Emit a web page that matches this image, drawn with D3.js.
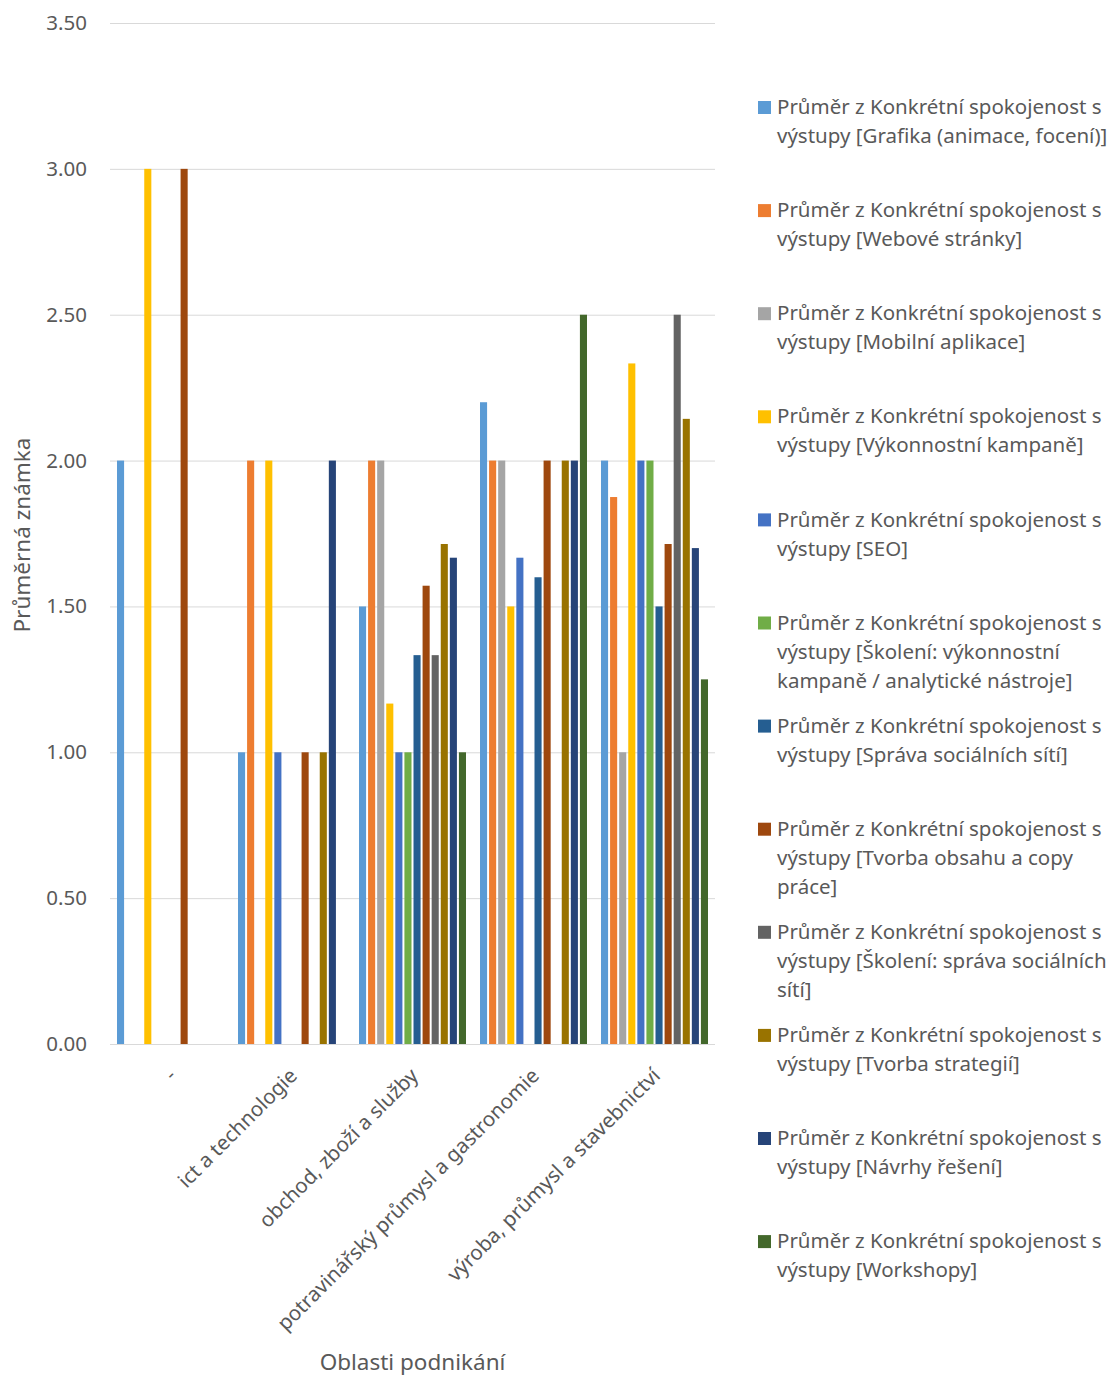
<!DOCTYPE html>
<html>
  <head>
    <meta charset="utf-8">
    <script src="https://d3js.org/d3.v7.min.js"></script>
    <style>
    body {
      margin: 0;
      background-color: #fff;
    }
    text {
      font-family: "Noto Sans", sans-serif;
      fill: #595959;
    }
    </style>
    <title>Průměrná známka podle oblasti podnikání</title>
  </head>
  <body>
    <div class="chart"></div>

    <script>

      // categories on the x axis
      var categories = ["-", "ict a technologie", "obchod, zboží a služby",
                        "potravinářský průmysl a gastronomie", "výroba, průmysl a stavebnictví"];

      // one array per series, null = no bar
      var grafika      = [2,    1,    1.5,   2.2,   2];
      var webove       = [null, 2,    2,     2,     1.875];
      var mobilni      = [null, null, 2,     2,     1];
      var vykonnostni  = [3,    2,    1.167, 1.5,   2.333];
      var seo          = [null, 1,    1,     1.667, 2];
      var skoleniKamp  = [null, null, 1,     null,  2];
      var spravaSoc    = [null, null, 1.333, 1.6,   1.5];
      var tvorbaObsahu = [3,    1,    1.571, 2,     1.714];
      var skoleniSoc   = [null, null, 1.333, null,  2.5];
      var strategie    = [null, 1,    1.714, 2,     2.143];
      var navrhy       = [null, 2,    1.667, 2,     1.7];
      var workshopy    = [null, null, 1,     2.5,   1.25];

      var seriesValues = [grafika, webove, mobilni, vykonnostni, seo, skoleniKamp,
                          spravaSoc, tvorbaObsahu, skoleniSoc, strategie, navrhy, workshopy];

      // legend texts, already split into lines like in the original
      var legendLines = [
        ["Průměr z Konkrétní spokojenost s", "výstupy [Grafika (animace, focení)]"],
        ["Průměr z Konkrétní spokojenost s", "výstupy [Webové stránky]"],
        ["Průměr z Konkrétní spokojenost s", "výstupy [Mobilní aplikace]"],
        ["Průměr z Konkrétní spokojenost s", "výstupy [Výkonnostní kampaně]"],
        ["Průměr z Konkrétní spokojenost s", "výstupy [SEO]"],
        ["Průměr z Konkrétní spokojenost s", "výstupy [Školení: výkonnostní", "kampaně / analytické nástroje]"],
        ["Průměr z Konkrétní spokojenost s", "výstupy [Správa sociálních sítí]"],
        ["Průměr z Konkrétní spokojenost s", "výstupy [Tvorba obsahu a copy", "práce]"],
        ["Průměr z Konkrétní spokojenost s", "výstupy [Školení: správa sociálních", "sítí]"],
        ["Průměr z Konkrétní spokojenost s", "výstupy [Tvorba strategií]"],
        ["Průměr z Konkrétní spokojenost s", "výstupy [Návrhy řešení]"],
        ["Průměr z Konkrétní spokojenost s", "výstupy [Workshopy]"]
      ];

      var colors = ["#5B9BD5", "#ED7D31", "#A5A5A5", "#FFC000", "#4472C4", "#70AD47",
                    "#255E91", "#9E480E", "#636363", "#997300", "#264478", "#43682B"];

      var yTicks = [0, 0.5, 1, 1.5, 2, 2.5, 3, 3.5];

      var yTitle = "Průměrná známka";
      var xTitle = "Oblasti podnikání";

      var width = 1119;
      var height = 1376;

      var plot = { left: 110, right: 715, top: 23, bottom: 1044 };

      var svg = d3.select('.chart').append('svg')
          .attr('width', width)
          .attr('height', height);

      var keys = d3.range(seriesValues.length);

      var x0 = d3.scaleBand()
          .domain(categories)
          .range([plot.left, plot.right])
          .padding(0);

      var x1 = d3.scaleBand()
          .domain(keys)
          .range([7, x0.bandwidth() - 7])
          .paddingInner(0.22)
          .paddingOuter(0);

      var y = d3.scaleLinear()
          .domain([0, 3.5])
          .range([plot.bottom, plot.top]);

      // gridlines + tick labels
      var yAxis = d3.axisLeft(y)
          .tickValues(yTicks)
          .tickFormat(d3.format('.2f'))
          .tickSize(-(plot.right - plot.left))
          .tickPadding(23);

      var gy = svg.append('g')
          .attr('transform', 'translate(' + plot.left + ',0)')
          .call(yAxis);

      gy.select('.domain').remove();
      gy.selectAll('line').attr('stroke', '#d9d9d9').attr('stroke-width', 1);
      gy.selectAll('text')
          .attr('fill', '#595959')
          .style('font-size', '20.5px')
          .style('font-family', '"Noto Sans", sans-serif');

      // bars
      var data = [];
      categories.forEach(function(c, ci) {
        keys.forEach(function(k) {
          var v = seriesValues[k][ci];
          if (v !== null) data.push({ cat: c, key: k, value: v });
        });
      });

      svg.append('g')
        .selectAll('rect')
        .data(data)
        .enter().append('rect')
          .attr('x', function(d) { return x0(d.cat) + x1(d.key); })
          .attr('y', function(d) { return y(d.value); })
          .attr('width', x1.bandwidth())
          .attr('height', function(d) { return y(0) - y(d.value); })
          .attr('fill', function(d) { return colors[d.key]; });

      // baseline
      svg.append('line')
          .attr('x1', plot.left).attr('x2', plot.right)
          .attr('y1', y(0) + 0.5).attr('y2', y(0) + 0.5)
          .attr('stroke', '#d9d9d9');

      // category labels, rotated
      svg.append('g')
        .selectAll('text')
        .data(categories)
        .enter().append('text')
          .attr('transform', function(d) {
            return 'translate(' + (x0(d) + x0.bandwidth() / 2 + 7) + ',1077) rotate(-45)';
          })
          .attr('text-anchor', 'end')
          .style('font-size', '20.5px')
          .text(function(d) { return d; });

      // axis titles
      svg.append('text')
          .attr('x', (plot.left + plot.right) / 2)
          .attr('y', 1370)
          .attr('text-anchor', 'middle')
          .style('font-size', '22.5px')
          .text(xTitle);

      svg.append('text')
          .attr('transform', 'translate(30,535) rotate(-90)')
          .attr('text-anchor', 'middle')
          .style('font-size', '22.5px')
          .text(yTitle);

      // legend
      var legend = svg.append('g')
        .selectAll('g')
        .data(legendLines)
        .enter().append('g')
          .attr('transform', function(d, i) { return 'translate(758,' + (107 + i * 103.1) + ')'; });

      legend.append('rect')
          .attr('x', 0)
          .attr('y', -6)
          .attr('width', 13)
          .attr('height', 13)
          .attr('fill', function(d, i) { return colors[i]; });

      legend.append('text')
          .attr('x', 19)
          .attr('y', 0)
          .style('font-size', '20.5px')
        .selectAll('tspan')
        .data(function(d) { return d; })
        .enter().append('tspan')
          .attr('x', 19)
          .attr('dy', function(d, i) { return i === 0 ? '0.35em' : '29px'; })
          .text(function(d) { return d; });

    </script>
  </body>
</html>
